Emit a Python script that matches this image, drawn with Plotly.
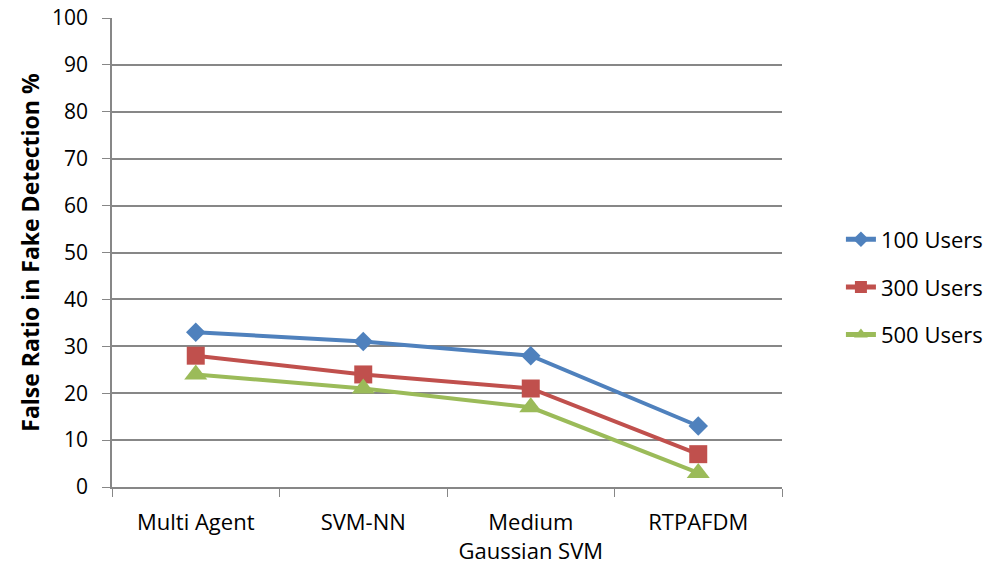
import plotly.graph_objects as go

categories = ["Multi Agent", "SVM-NN", "Medium<br>Gaussian SVM", "RTPAFDM"]
users_100 = [33, 31, 28, 13]
users_300 = [28, 24, 21, 7]
users_500 = [24, 21, 17, 3]
y_ticks = [0, 10, 20, 30, 40, 50, 60, 70, 80, 90, 100]

series = [
    ("100 Users", users_100, "#4F81BD", "diamond", 15),
    ("300 Users", users_300, "#C0504D", "square", 18),
    ("500 Users", users_500, "#9BBB59", "triangle-up", 20),
]

fig = go.Figure()
for name, vals, color, sym, size in series:
    fig.add_trace(go.Scatter(
        x=categories, y=vals, name=name, mode="lines+markers",
        legendgroup=name,
        line=dict(color=color, width=4),
        marker=dict(symbol=sym, size=size, color=color),
    ))

font_family = "'Open Sans', Lato, sans-serif"
grey = "#878787"
fig.update_layout(
    width=994, height=568,
    margin=dict(l=112, r=212, t=18, b=81),
    paper_bgcolor="white", plot_bgcolor="white",
    font=dict(family=font_family, size=22, color="#000000"),
    legend=dict(xref="container", yref="container", x=0.846, y=0.4947,
                xanchor="left", yanchor="middle", bgcolor="rgba(0,0,0,0)",
                font=dict(size=22), tracegroupgap=16, itemsizing="constant"),
    xaxis=dict(
        type="category", tickson="boundaries", ticks="outside", ticklen=8,
        tickcolor=grey, showline=True, linecolor=grey, linewidth=1.5,
        showgrid=False, tickfont=dict(size=22), range=[-0.5, 3.5],
        ticklabelstandoff=15, automargin=False,
    ),
    yaxis=dict(
        range=[0, 100], tickvals=y_ticks, ticks="outside", ticklen=8,
        tickcolor=grey, showline=True, linecolor=grey, linewidth=1.5,
        showgrid=True, gridcolor=grey, gridwidth=1.5, zeroline=False,
        tickfont=dict(size=21), automargin=False, ticklabelstandoff=10,
        ticklabeloverflow="allow",
        title=dict(text="<b>False Ratio in Fake Detection %</b>", font=dict(size=23), standoff=6),
    ),
)
fig.write_html(
    "out.html",
    config={"displayModeBar": False},
    post_script="document.documentElement.style.overflow='hidden';document.body.style.margin='0';document.body.style.overflow='hidden';",
)
